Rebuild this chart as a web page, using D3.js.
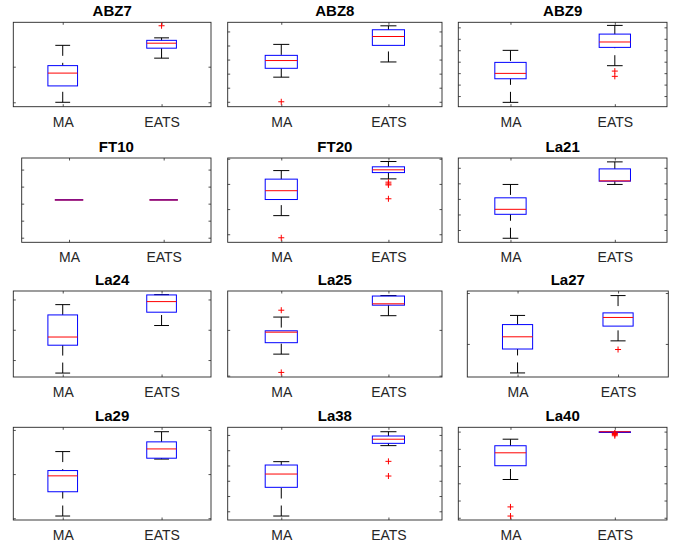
<!DOCTYPE html>
<html><head><meta charset="utf-8">
<script src="https://cdn.jsdelivr.net/npm/d3@7/dist/d3.min.js"></script>
<style>body{margin:0;background:#fff} svg{display:block}</style>
</head><body>
<svg id="c" width="684" height="549"></svg>
<script>
// ---- data (arbitrary y units, one unit = one y tick step) ----
const titles = ["ABZ7","ABZ8","ABZ9","FT10","FT20","La21","La24","La25","La27","La29","La38","La40"];
const groups = ["MA","EATS"];
// [lower whisker, q1, median, q3, upper whisker]
const maStats = [
  [0.00, 0.46, 0.82, 1.03, 1.60],
  [1.75, 2.38, 2.93, 3.30, 4.08],
  [-0.55, 1.51, 1.98, 2.94, 3.99],
  [2.22, 2.22, 2.22, 2.22, 2.22],
  [0.74, 1.38, 1.73, 2.19, 2.53],
  [-0.53, 1.01, 1.33, 2.07, 2.93],
  [-0.43, 0.49, 0.76, 1.49, 1.83],
  [0.47, 0.72, 0.95, 0.98, 1.28],
  [-0.57, -0.10, 0.14, 0.38, 0.56],
  [0.05, 0.60, 0.96, 1.08, 1.51],
  [-0.31, 1.57, 2.44, 3.03, 3.25],
  [2.22, 3.02, 3.77, 4.18, 4.56]
];
const eatsStats = [
  [1.24, 1.52, 1.66, 1.74, 1.81],
  [2.83, 4.01, 4.64, 5.12, 5.40],
  [2.65, 4.25, 4.72, 5.41, 6.17],
  [2.22, 2.22, 2.22, 2.22, 2.22],
  [2.20, 2.45, 2.56, 2.68, 2.89],
  [2.93, 3.14, 3.16, 3.93, 4.38],
  [1.14, 1.58, 1.93, 2.15, 2.16],
  [1.31, 1.54, 1.57, 1.74, 1.75],
  [0.06, 0.35, 0.52, 0.61, 0.95],
  [1.34, 1.36, 1.57, 1.73, 1.96],
  [4.30, 4.45, 4.72, 4.93, 5.21],
  [4.95, 4.95, 4.99, 4.99, 4.99]
];
const maOutliers = [[], [0], [], [], [-0.14], [], [], [1.43, 0.07], [], [], [], [0.63, 0.10]];
const eatsOutliers = [[2.15], [], [2.18, 1.72], [], [2.07, 2.00, 1.96, 1.41], [], [], [], [-0.11], [], [3.27, 2.31], [4.92, 4.89, 4.83, 4.76]];
const yDomains = [
  [-0.124, 2.247], [-0.35, 5.65], [-0.93, 6.44],
  [-0.27, 4.68], [-0.32, 3.03], [-0.79, 4.63],
  [-0.56, 2.28], [-0.03, 1.85], [-0.65, 1.04],
  [-0.04, 2.06], [-0.57, 5.50], [-0.13, 5.25]
];
const yTicks = [
  [0,1], [0,1,2,3,4,5], [0,1,2,3,4,5,6],
  [0,1,2,3,4], [0,1,2,3], [0,1,2,3,4],
  [0,1,2], [0,1], [0,1],
  [0,1,2], [0,1,2,3,4,5], [0,1,2,3,4,5]
];

// ---- layout ----
const rowTop = [22.3, 158, 291, 427.3];
const rowBottom = [106.7, 242.3, 377, 520];
const colLeft = [13.3, 227.7, 458.3];
const colRight = [211, 442, 667];
const leftOverride = {3: 21.7, 8: 467.3};
const rightOverride = {8: 668.3};

const font = "'Liberation Sans', Arial, Helvetica, sans-serif";
const axisColor = "#262626";
const svg = d3.select("#c");

titles.forEach((title, i) => {
  const r = Math.floor(i / 3), c = i % 3;
  const left = leftOverride[i] !== undefined ? leftOverride[i] : colLeft[c];
  const right = rightOverride[i] !== undefined ? rightOverride[i] : colRight[c];
  const top = rowTop[r], bottom = rowBottom[r];
  const x = d3.scaleLinear().domain([0.5, 2.5]).range([left, right]);
  const y = d3.scaleLinear().domain(yDomains[i]).range([bottom, top]);
  const g = svg.append("g");

  // axes ticks (inward, all four sides)
  const tickLen = 2.5;
  const styleAxis = sel => {
    sel.select(".domain").remove();
    sel.selectAll(".tick line").attr("stroke", axisColor).attr("stroke-width", 0.8);
  };
  g.append("g").attr("transform", `translate(${left},0)`)
    .call(d3.axisLeft(y).tickValues(yTicks[i]).tickSize(-tickLen).tickFormat(""))
    .call(styleAxis);
  g.append("g").attr("transform", `translate(${right},0)`)
    .call(d3.axisRight(y).tickValues(yTicks[i]).tickSize(-tickLen).tickFormat(""))
    .call(styleAxis);
  g.append("g").attr("transform", `translate(0,${top})`)
    .call(d3.axisTop(x).tickValues([1, 2]).tickSize(-tickLen).tickFormat(""))
    .call(styleAxis);
  const xb = g.append("g").attr("transform", `translate(0,${bottom})`)
    .call(d3.axisBottom(x).tickValues([1, 2]).tickSize(-tickLen).tickPadding(10)
      .tickFormat(d => groups[d - 1]))
    .call(styleAxis);
  xb.selectAll(".tick text").attr("fill", axisColor).attr("font-family", font).attr("font-size", 14);

  // frame
  g.append("rect").attr("x", left).attr("y", top)
    .attr("width", right - left).attr("height", bottom - top)
    .attr("fill", "none").attr("stroke", axisColor).attr("stroke-width", 0.9);

  // title
  g.append("text").attr("x", (left + right) / 2).attr("y", top - 6.5)
    .attr("text-anchor", "middle").attr("font-family", font)
    .attr("font-weight", "bold").attr("font-size", 15).attr("fill", "#000")
    .text(title);

  // boxes
  const allStats = [maStats[i], eatsStats[i]];
  const allOut = [maOutliers[i], eatsOutliers[i]];
  allStats.forEach((s, k) => {
    const pos = k + 1;
    const [lo, q1, med, q3, hi] = s;
    const bx0 = x(pos - 0.15), bx1 = x(pos + 0.15);
    const cx0 = x(pos - 0.075), cx1 = x(pos + 0.075);
    const xc = x(pos);
    // whiskers (dashed from cap toward box)
    if (hi > q3) g.append("line").attr("x1", xc).attr("x2", xc).attr("y1", y(hi)).attr("y2", y(q3))
      .attr("stroke", "#000").attr("stroke-width", 1).attr("stroke-dasharray", "10.5,7");
    if (lo < q1) g.append("line").attr("x1", xc).attr("x2", xc).attr("y1", y(lo)).attr("y2", y(q1))
      .attr("stroke", "#000").attr("stroke-width", 1).attr("stroke-dasharray", "10.5,7");
    // caps
    if (hi !== q3 || lo !== q1) {
      [lo, hi].forEach(v => g.append("line").attr("x1", cx0).attr("x2", cx1)
        .attr("y1", y(v)).attr("y2", y(v)).attr("stroke", "#000").attr("stroke-width", 1));
    }
    // box
    const degenerate = (q3 - q1) === 0;
    if (!degenerate) {
      g.append("rect").attr("x", bx0).attr("y", y(q3)).attr("width", bx1 - bx0)
        .attr("height", y(q1) - y(q3)).attr("fill", "none")
        .attr("stroke", "#0000ff").attr("stroke-width", 1);
    }
    // median
    g.append("line").attr("x1", bx0).attr("x2", bx1).attr("y1", y(med)).attr("y2", y(med))
      .attr("stroke", "#ff0000").attr("stroke-width", degenerate ? 1.6 : 1);
    if (degenerate) {
      g.append("line").attr("x1", bx0).attr("x2", bx1).attr("y1", y(q1)).attr("y2", y(q1))
        .attr("stroke", "#0000ff").attr("stroke-opacity", 0.5).attr("stroke-width", 1.6);
    }
    // outliers
    allOut[k].forEach(v => {
      const py = y(v), h = 3;
      g.append("path").attr("d", `M${xc - h},${py}H${xc + h}M${xc},${py - h}V${py + h}`)
        .attr("stroke", "#ff0000").attr("stroke-width", 1).attr("fill", "none");
    });
  });
});
</script>
</body></html>
